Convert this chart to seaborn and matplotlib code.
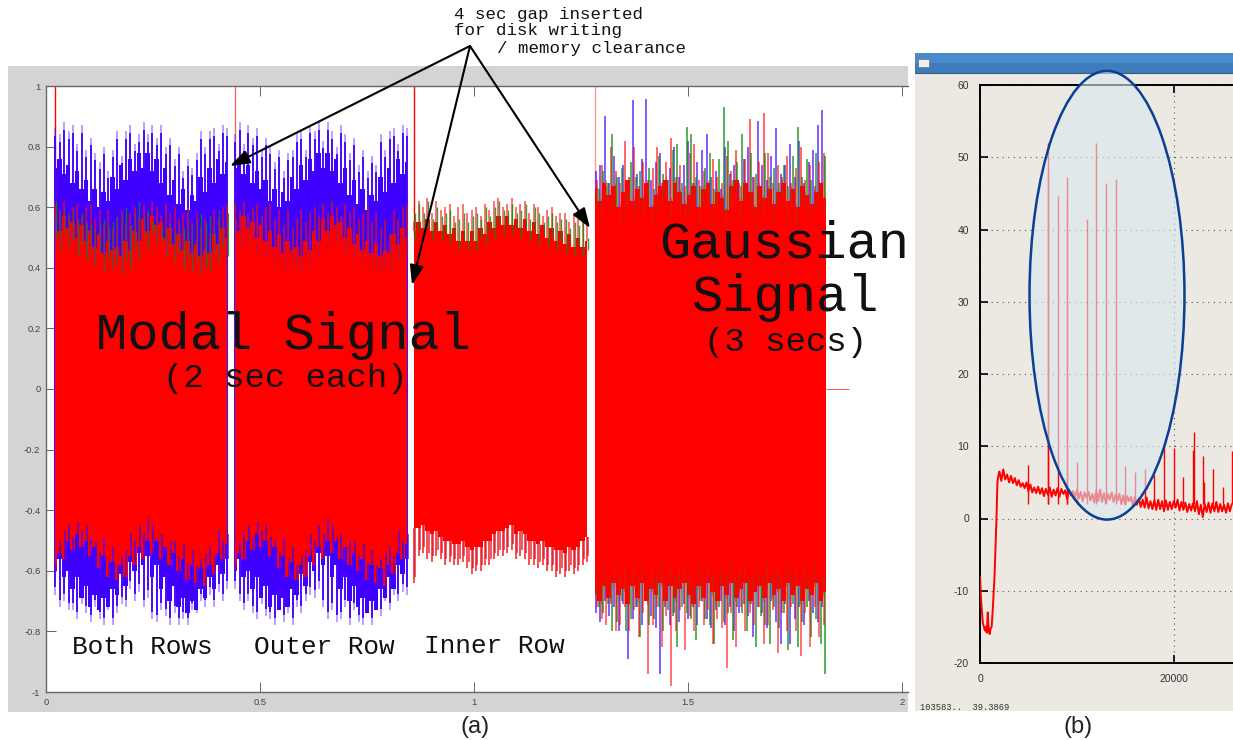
import numpy as np
import matplotlib
matplotlib.use("Agg")
import matplotlib.pyplot as plt
from matplotlib.patches import Rectangle, Ellipse
import pandas as pd
import seaborn as sns

# ---------- panel (a): spike heights ----------
seg_spans = [(0.021, 0.423), (0.441, 0.843), (0.860, 1.264), (1.282, 1.822)]
tick_vals_y = [-1, -0.8, -0.6, -0.4, -0.2, 0, 0.2, 0.4, 0.6, 0.8, 1]
tick_text_y = ["-1", "-0.8", "-0.6", "-0.4", "-0.2", "0", "0.2", "0.4", "0.6", "0.8", "1"]
tick_vals_x = [0, 0.5, 1, 1.5, 2]
tick_text_x = ["0", "0.5", "1", "1.5", "2"]

blue_top_1 = [.86,.84,.88,.85,.87,.81,.87,.79,.83,.78,.75,.80,.72,.79,.85,.77,.85,.87,.81,.84,
              .88,.84,.87,.83,.87,.80,.83,.76,.80,.72,.76,.73,.78,.85,.80,.85,.86,.81,.87,.86]
blue_top_2 = [.84,.88,.81,.87,.83,.86,.79,.83,.80,.75,.79,.72,.78,.79,.84,.85,.79,.87,.85,.88,
              .82,.88,.85,.80,.87,.84,.78,.83,.74,.79,.72,.77,.74,.84,.79,.85,.86,.81,.87,.86]
blue_base = [.73,.76,.71,.74,.68,.72,.66,.69,.62,.66,.60,.65,.62,.70,.66,.74,.69,.76,.72,.78,
             .73,.78,.72,.76,.68,.73,.64,.69,.61,.66,.59,.64,.62,.70,.65,.73,.68,.76,.71,.75]
red_top_1 = [.61,.59,.62,.58,.60,.61,.57,.60,.61,.56,.59,.54,.59,.53,.56,.59,.55,.58,.60,.57,
             .61,.58,.62,.60,.57,.61,.58,.60,.56,.58,.60,.55,.58,.53,.56,.51,.59,.56,.60,.61]
red_base_1 = [.56,.52,.57,.53,.55,.50,.54,.49,.52,.47,.51,.45,.49,.46,.47,.44,.49,.46,.52,.49,
              .56,.52,.57,.54,.55,.50,.53,.48,.51,.46,.49,.45,.48,.44,.46,.45,.51,.48,.53,.50]
green_top_1 = [.62,.58,.60,.57,.59,.56,.58,.55,.54,.53,.55,.56,.54,.55,.57,.58,.60,.54,.58,.62,
               .57,.59,.55,.56,.54,.53,.55,.52,.54,.53,.55,.54,.56,.58,.55,.57,.53,.59,.55,.58]
blue_bot_1 = [-.68,-.72,-.70,-.73,-.73,-.76,-.71,-.74,-.77,-.72,-.76,-.78,-.73,-.78,-.74,-.71,-.72,-.66,-.70,-.67,
              -.72,-.69,-.76,-.77,-.73,-.75,-.78,-.74,-.78,-.76,-.78,-.73,-.74,-.70,-.72,-.68,-.72,-.67,-.70,-.66]
blue_bot_2 = [-.66,-.70,-.73,-.70,-.74,-.76,-.71,-.75,-.76,-.78,-.73,-.77,-.74,-.78,-.72,-.74,-.70,-.68,-.69,-.66,
              -.72,-.76,-.73,-.77,-.76,-.72,-.78,-.73,-.77,-.78,-.74,-.78,-.72,-.75,-.70,-.73,-.68,-.70,-.67,-.68]
blue_bbase = [-.60,-.56,-.62,-.60,-.66,-.62,-.69,-.65,-.72,-.68,-.73,-.69,-.72,-.66,-.68,-.61,-.65,-.57,-.60,-.54,
              -.58,-.55,-.62,-.58,-.66,-.62,-.70,-.65,-.72,-.69,-.74,-.70,-.73,-.66,-.69,-.62,-.66,-.58,-.61,-.56]
red_bbase_1 = [-.60,-.54,-.56,-.50,-.53,-.48,-.52,-.50,-.55,-.52,-.59,-.55,-.62,-.57,-.63,-.58,-.62,-.55,-.58,-.52,
               -.56,-.50,-.54,-.50,-.56,-.52,-.58,-.54,-.60,-.56,-.63,-.58,-.64,-.59,-.65,-.58,-.61,-.54,-.56,-.51]
blue_rise = [-.58,-.50,-.47,-.45,-.49,-.44,-.47,-.45,-.49,-.50,-.54,-.49,-.56,-.52,-.58,-.55,-.53,-.48,-.50,-.45,
             -.48,-.43,-.45,-.49,-.48,-.52,-.50,-.50,-.55,-.51,-.57,-.53,-.58,-.56,-.54,-.52,-.55,-.47,-.50,-.48]

inner_top = [.55,.62,.60,.63,.58,.62,.59,.60,.61,.57,.60,.61,.58,.59,.60,.57,.61,.59,.62,.63,
             .60,.61,.63,.60,.61,.62,.58,.61,.60,.57,.59,.60,.57,.58,.58,.55,.58,.56,.58,.55]
inner_green = [.58,.61,.58,.62,.56,.60,.57,.58,.59,.55,.56,.58,.55,.57,.58,.56,.60,.57,.60,.62,
               .59,.59,.61,.58,.59,.61,.56,.60,.58,.55,.57,.58,.55,.56,.56,.53,.55,.54,.55,.50]
inner_base = [.52,.55,.53,.56,.52,.55,.52,.54,.51,.53,.49,.52,.49,.52,.49,.53,.51,.55,.53,.57,
              .54,.57,.54,.56,.53,.56,.52,.55,.51,.54,.50,.53,.49,.52,.48,.51,.47,.50,.47,.49]
inner_bot = [-.64,-.55,-.54,-.56,-.57,-.55,-.56,-.58,-.57,-.58,-.58,-.57,-.59,-.61,-.60,-.60,-.58,-.58,-.56,-.55,
             -.55,-.54,-.53,-.56,-.55,-.56,-.58,-.58,-.59,-.58,-.60,-.60,-.62,-.61,-.62,-.60,-.61,-.60,-.58,-.57]
inner_bbase = [-.46,-.46,-.45,-.47,-.48,-.47,-.49,-.50,-.50,-.51,-.51,-.50,-.52,-.53,-.52,-.52,-.50,-.50,-.48,-.47,
               -.47,-.46,-.45,-.48,-.47,-.48,-.50,-.50,-.51,-.50,-.52,-.52,-.53,-.53,-.54,-.52,-.53,-.52,-.50,-.49]

gauss_blue_top = [.72,.74,.90,.68,.77,.70,.74,.66,.954,.71,.76,.957,.69,.75,.78,.67,.73,.80,.70,.74,
                  .82,.68,.75,.79,.84,.70,.72,.66,.80,.71,.74,.68,.76,.80,.70,.885,.74,.69,.77,.86,
                  .71,.74,.81,.70,.82,.68,.75,.79,.87,.92]
gauss_green_top = [.66,.72,.68,.84,.70,.73,.66,.75,.70,.72,.68,.73,.66,.77,.71,.69,.79,.81,.68,.865,
                   .84,.70,.67,.73,.78,.66,.76,.93,.82,.69,.75,.84,.68,.78,.71,.66,.78,.70,.73,.68,
                   .74,.67,.77,.865,.70,.76,.69,.78,.68,.77]
gauss_red_top = [.69,.74,.67,.80,.72,.68,.82,.70,.80,.67,.75,.69,.73,.80,.68,.75,.83,.70,.74,.67,
                 .78,.81,.69,.72,.67,.76,.70,.68,.77,.72,.79,.67,.76,.89,.70,.75,.91,.78,.68,.74,
                 .70,.77,.68,.73,.80,.69,.74,.67,.75,.78]
gauss_base = [.66,.62,.68,.64,.67,.60,.65,.69,.62,.66,.63,.68,.60,.64,.67,.69,.62,.68,.65,.61,
              .64,.67,.60,.66,.68,.61,.65,.63,.59,.67,.69,.62,.68,.65,.60,.67,.63,.66,.61,.65,
              .68,.62,.66,.60,.67,.64,.61,.65,.68,.63]
gauss_blue_bot = [-.74,-.77,-.70,-.75,-.72,-.80,-.71,-.89,-.76,-.72,-.78,-.70,-.75,-.79,-.94,-.72,-.78,-.74,-.77,-.71,
                  -.76,-.72,-.78,-.70,-.76,-.79,-.73,-.70,-.78,-.72,-.80,-.74,-.71,-.75,-.82,-.72,-.74,-.79,-.70,-.77,
                  -.84,-.71,-.84,-.76,-.72,-.78,-.70,-.74,-.77,-.72]
gauss_green_bot = [-.72,-.74,-.71,-.80,-.77,-.70,-.80,-.76,-.72,-.82,-.70,-.78,-.76,-.72,-.80,-.73,-.75,-.85,-.72,-.74,
                   -.76,-.83,-.70,-.76,-.78,-.84,-.72,-.77,-.74,-.83,-.72,-.74,-.80,-.71,-.85,-.75,-.78,-.84,-.72,-.79,
                   -.74,-.86,-.71,-.85,-.77,-.72,-.82,-.76,-.84,-.94]
gauss_red_bot = [-.72,-.76,-.78,-.71,-.80,-.78,-.72,-.80,-.73,-.82,-.74,-.94,-.78,-.72,-.85,-.75,-.98,-.80,-.73,-.86,
                 -.75,-.80,-.72,-.78,-.73,-.84,-.76,-.79,-.92,-.74,-.85,-.72,-.80,-.74,-.78,-.72,-.84,-.78,-.73,-.87,
                 -.74,-.80,-.72,-.80,-.88,-.74,-.85,-.72,-.82,-.78]
gauss_bbase = [-.68,-.70,-.65,-.69,-.64,-.68,-.66,-.71,-.65,-.69,-.64,-.70,-.66,-.68,-.64,-.70,-.65,-.69,-.66,-.64,
               -.68,-.71,-.65,-.69,-.64,-.67,-.70,-.65,-.68,-.64,-.69,-.66,-.64,-.70,-.67,-.65,-.69,-.64,-.68,-.66,
               -.70,-.64,-.68,-.65,-.70,-.66,-.68,-.64,-.70,-.67]

# ---------- panel (b): trace and spikes ----------
start_x = [0,100,200,300,400,500,600,700,800,900,1000,1100,1200,1300,1400,1500,1600,1700,1800,1900]
start_y = [-8,-11,-13,-14.5,-15,-15.5,-15,-15.8,-13,-15.5,-16,-15.2,-15,-13,-10.5,-8,-4,0,5,6]
body_y = [6.5,5.2,6.8,5.4,6.1,5.0,5.9,4.9,5.6,4.6,5.3,4.4,4.9,4.2,5.0,3.8,4.7,3.6,4.3,3.5,
          4.4,3.4,4.2,3.1,4.1,3.3,4.3,3.0,4.0,3.2,4.2,3.0,4.1,3.4,3.9,2.7,4.0,3.2,3.8,2.9,
          3.9,2.8,3.7,2.4,3.6,2.9,3.7,2.5,3.4,2.2,3.9,2.4,4.0,2.3,3.5,2.1,3.4,2.6,3.6,2.3,
          3.3,2.5,3.4,2.0,3.2,1.9,3.1,2.4,3.0,1.8,3.0,1.9,2.8,1.6,2.6,1.5,2.9,1.4,2.4,1.3,
          2.5,1.2,2.6,1.3,2.4,1.0,2.5,1.2,2.3,1.3,2.4,1.5,2.6,1.1,2.3,1.2,2.2,0.9,2.0,1.1,
          2.1,1.0,2.4,0.6,1.9,0.2,2.0,0.9,2.2,0.8,2.1,1.0,2.3,0.9,2.0,1.0,1.9,0.8,2.1,1.0,2.0]
spike_x = [5000,7050,7000,8020,9020,8980,10000,11000,12000,13000,14000,15000,16000,17000,18000,19000,20000,21000,22050,22000,23050,23080,24100,25050,26050]
spike_y = [7.4,52,48,44.7,47.3,44,7.8,41.5,52,46.5,47,7.3,6.5,6.8,6,10,9.8,5.8,12,9.5,8.7,5,6.8,4.3,9.3]
b_ticks_y = [-20,-10,0,10,20,30,40,50,60]
b_ticks_x = [0,20000]

RED, BLUE, GREEN = "#ff0000", "#4000ff", "#0a8a0a"
W, H = 1233, 740

sns.set_theme(style="white", rc={"font.family": "Liberation Sans", "axes.unicode_minus": False})
fig = plt.figure(figsize=(W / 100, H / 100), dpi=100, facecolor="white")

def box(l, t, r, b):
    return [l / W, 1 - b / H, (r - l) / W, (b - t) / H]

# backdrop in pixel coordinates
bg = fig.add_axes([0, 0, 1, 1], zorder=0)
bg.set_xlim(0, W); bg.set_ylim(H, 0); bg.axis("off")
bg.add_patch(Rectangle((8, 66), 900, 646, fc="#d4d4d4", ec="none"))
bg.add_patch(Rectangle((915, 53), 318, 658, fc="#ece9e2", ec="none"))
bg.add_patch(Rectangle((915, 53), 318, 10, fc="#4a8bcb", ec="none"))
bg.add_patch(Rectangle((915, 63), 318, 10, fc="#3f7cbb", ec="none"))
bg.plot([915, 1233], [73, 73], color="#2f5c8c", lw=0.8)
bg.add_patch(Rectangle((918, 59), 11, 8, fc="#eef0f2", ec="#6d7f90", lw=0.6))
bg.text(920, 707, "103583..  39.3869", family="Liberation Mono", fontsize=6.3, color="#333333", va="center")

# ---------- panel (a) ----------
ax = fig.add_axes(box(46, 86, 908, 692), zorder=1)
ax.set_xlim(0, 862 / 428); ax.set_ylim(-1, 1)
ax.set_facecolor("white")

def xs(span, n):
    return np.linspace(span[0], span[1], n)

def spikes(x, lo, hi, color, lw=1.1, alpha=1.0, z=3):
    ax.vlines(x, lo, hi, color=color, lw=lw, alpha=alpha, zorder=z)

def modal(span, b_top, b_bot, green_alpha):
    x = xs(span, len(b_top))
    ax.fill_between(x, blue_base, blue_bbase, step="mid", color=BLUE, lw=0, zorder=2)
    spikes(x + 0.001, 0, b_top, BLUE, lw=1.3, alpha=0.4)
    spikes(x + 0.001, 0, np.array(b_top) - 0.025, BLUE, lw=1.3)
    spikes(x + 0.001, b_bot, 0, BLUE, lw=1.3, alpha=0.4)
    spikes(x + 0.001, np.array(b_bot) + 0.025, 0, BLUE, lw=1.3)
    spikes(x + 0.001, red_base_1, red_top_1, RED, lw=1.1, alpha=0.85, z=4)
    ax.fill_between(x, red_base_1, red_bbase_1, step="mid", color=RED, lw=0, zorder=5)
    spikes(x + 0.0015, np.array(red_base_1) - 0.06, green_top_1, GREEN, lw=0.9, alpha=green_alpha, z=6)
    spikes(x + 0.001, np.array(red_base_1) - 0.05, red_top_1, "#7a20b0", lw=0.8, alpha=0.5, z=6)
    spikes(x + 0.002, blue_rise, blue_bbase, BLUE, lw=1.1, alpha=0.85, z=6)

modal(seg_spans[0], blue_top_1, blue_bot_1, 0.85)
modal(seg_spans[1], blue_top_2, blue_bot_2, 0.15)

x3 = xs(seg_spans[2], len(inner_top))
spikes(x3, inner_base, inner_top, RED, lw=1.3, alpha=0.6)
spikes(x3 + 0.002, np.array(inner_base) - 0.03, inner_green, GREEN, lw=1.0, alpha=0.8, z=4)
ax.fill_between(x3, inner_base, inner_bbase, step="mid", color=RED, lw=0, zorder=3)
spikes(x3, inner_bot, inner_bbase, RED, lw=1.4, alpha=0.7)
spikes(x3 + 0.003, np.array(inner_bot) + 0.02, inner_bbase, "#d01030", lw=1.1, alpha=0.85, z=4)

x4 = xs(seg_spans[3], len(gauss_base))
x4_lines = xs((seg_spans[3][0] + 0.002, seg_spans[3][1] - 0.008), len(gauss_base))
spikes(x4_lines, 0, gauss_blue_top, BLUE, lw=1.2, alpha=0.75)
spikes(x4_lines + 0.0035, 0, gauss_red_top, RED, lw=1.2, alpha=0.7)
spikes(x4_lines + 0.007, 0, gauss_green_top, GREEN, lw=1.2, alpha=0.8)
spikes(x4_lines, gauss_blue_bot, 0, BLUE, lw=1.2, alpha=0.75)
spikes(x4_lines + 0.007, gauss_green_bot, 0, GREEN, lw=1.2, alpha=0.8)
spikes(x4_lines + 0.0035, gauss_red_bot, 0, RED, lw=1.2, alpha=0.65)
ax.fill_between(x4, gauss_base, gauss_bbase, step="mid", color=RED, lw=0, zorder=5)
spikes(x4_lines + 0.003, np.array(gauss_base) - 0.06, np.array(gauss_base) + 0.01, "#8a4a10", lw=0.8, alpha=0.55, z=6)
spikes(x4_lines + 0.001, np.array(gauss_bbase) - 0.01, np.array(gauss_bbase) + 0.07, "#8a4a10", lw=0.8, alpha=0.55, z=6)

for s, a in zip(seg_spans, (1, .6, 1, .4)):
    ax.vlines(s[0], 0.5, 1, color=RED, lw=1.0, alpha=a, zorder=2)
ax.hlines(0, seg_spans[3][1], 1.877, color=RED, lw=0.7, alpha=0.7, zorder=2)

ax.set_xticks(tick_vals_x, tick_text_x)
ax.set_yticks(tick_vals_y, tick_text_y)
ax.tick_params(axis="both", direction="in", length=7, width=0.7, color="#666666",
               labelsize=6.8, labelcolor="#444444", pad=4, top=True, bottom=True, left=True, right=False)
sns.despine(ax=ax, right=True, top=False)
for k in ("left", "top", "bottom"):
    ax.spines[k].set_color("#666666"); ax.spines[k].set_linewidth(1.0)

# ---------- panel (b) ----------
axb = fig.add_axes(box(980, 85, 1233, 663), zorder=1)
axb.set_xlim(0, 253 / 193.7 * 20000); axb.set_ylim(-20, 60)
axb.set_facecolor("none")
trace = pd.DataFrame({
    "x": list(start_x) + [2000 + 200 * i for i in range(len(body_y))],
    "y": list(start_y) + list(body_y),
})
axb.vlines(spike_x, 2, spike_y, color=RED, lw=1.0, zorder=3)
sns.lineplot(data=trace, x="x", y="y", ax=axb, color=RED, lw=1.4, estimator=None, sort=False, legend=False, zorder=3)
axb.set_xlabel(""); axb.set_ylabel("")
axb.set_xticks(b_ticks_x); axb.set_yticks(b_ticks_y)
axb.grid(True, linestyle=(0, (1, 4)), color="#555555", lw=0.8, zorder=1)
axb.tick_params(axis="both", direction="in", length=6, width=1.2, color="black",
                labelsize=7.5, labelcolor="#333333", pad=8, left=True, bottom=True, top=True)
sns.despine(ax=axb, right=True, top=False)
for k in ("left", "top", "bottom"):
    axb.spines[k].set_color("black"); axb.spines[k].set_linewidth(1.4)
axb.add_patch(Ellipse((13113, 30.9), 16000, 62.1, fc=(218/255, 232/255, 240/255, 0.6),
                      ec="#0b3f96", lw=1.8, clip_on=False, zorder=6))

# ---------- annotations in pixel coordinates ----------
ov = fig.add_axes([0, 0, 1, 1], zorder=5)
ov.set_xlim(0, W); ov.set_ylim(H, 0); ov.axis("off"); ov.patch.set_alpha(0)
mono = "Liberation Mono"
for (txt, px, py, fs) in [
    ("4 sec gap inserted", 454, 14, 12.6),
    ("for disk writing", 454, 31, 12.6),
    ("/ memory clearance", 497, 48, 12.6),
    ("Modal Signal", 96, 335, 37.5),
    ("(2 sec each)", 163, 378, 24.5),
    ("Gaussian", 659, 244, 37.5),
    ("Signal", 692, 297, 37.5),
    ("(3 secs)", 704, 342, 24.5),
    ("Both Rows", 72, 647, 18.8),
    ("Outer Row", 254, 647, 18.8),
    ("Inner Row", 424, 646, 18.8),
]:
    ov.text(px, py, txt, family=mono, fontsize=fs, color="#111111", va="center", ha="left")
ov.text(475, 727, "(a)", fontsize=17, color="#222222", ha="center", va="center", family="Liberation Sans")
ov.text(1078, 727, "(b)", fontsize=17, color="#222222", ha="center", va="center", family="Liberation Sans")
for tip in [(230, 166), (412, 285), (590, 228)]:
    ov.annotate("", xy=tip, xytext=(470, 46),
                arrowprops=dict(arrowstyle="-|>,head_length=1.0,head_width=0.35", color="black", lw=1.5,
                                shrinkA=0, shrinkB=0))

fig.savefig("out.png", dpi=100)
